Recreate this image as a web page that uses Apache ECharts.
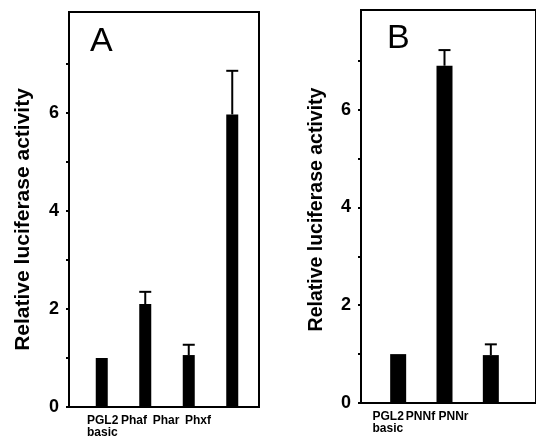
<!doctype html>
<html lang="en">
<head>
<meta charset="UTF-8">
<title>Relative luciferase activity</title>
<script src="https://cdn.jsdelivr.net/npm/echarts@6/dist/echarts.min.js"></script>
<style>
  html, body { margin: 0; padding: 0; background: #fff; }
  #main { width: 536px; height: 445px; }
</style>
</head>
<body>
<div id="main"></div>
<script>
// panel A
var catsA = ['PGL2\nbasic', 'Phaf', 'Phar', 'Phxf'];
var meanA = [1.0, 2.1, 1.06, 5.97];
var errTopA = [null, 2.35, 1.27, 6.86];
// panel B
var catsB = ['PGL2\nbasic', 'PNNf', 'PNNr'];
var meanB = [1.0, 6.9, 0.98];
var errTopB = [null, 7.22, 1.2];
// y ticks
var tickVals = [0, 1, 2, 3, 4, 5, 6, 7];
var labelVals = [0, 2, 4, 6];

var font = 'Liberation Sans, Arial, Helvetica, sans-serif';

function errPoints(means, tops) {
    var out = [];
    for (var i = 0; i < means.length; i++) {
        out.push([i, means[i], tops[i] == null ? NaN : tops[i]]);
    }
    return out;
}

function errItem(params, api) {
    var e = api.value(2);
    if (isNaN(e)) return;
    var top = api.coord([api.value(0), e]);
    var base = api.coord([api.value(0), api.value(1)]);
    var st = { stroke: '#000', lineWidth: 2 };
    return {
        type: 'group',
        children: [
            { type: 'line', shape: { x1: top[0], y1: top[1], x2: base[0], y2: base[1] }, style: st },
            { type: 'line', shape: { x1: top[0] - 6, y1: top[1], x2: top[0] + 6, y2: top[1] }, style: st }
        ]
    };
}

function catLabel(v) {
    var parts = v.split('\n');
    if (parts.length > 1) {
        return parts.map(function (p) { return '{l|' + p + '}'; }).join('\n');
    }
    return v;
}

function boxY(idx, max, nameSize, gap, shift) {
    return {
        gridIndex: idx, type: 'value', min: 0, max: max,
        axisLine: { show: true, lineStyle: { color: '#000', width: 2 } },
        axisTick: { show: true, length: 3, customValues: tickVals, lineStyle: { color: '#000', width: 2 } },
        axisLabel: { customValues: labelVals, color: '#000', fontSize: 18, fontWeight: 'bold', fontFamily: font, margin: 10 },
        splitLine: { show: false },
        name: 'Relative luciferase activity',
        nameLocation: 'middle', nameRotate: 90, nameGap: gap,
        nameTextStyle: { color: '#000', fontSize: nameSize, fontWeight: 'bold', fontFamily: font, padding: [0, shift, 0, 0] }
    };
}

function hiddenY(idx, max) {
    return { gridIndex: idx, type: 'value', min: 0, max: max, show: false };
}

function labelX(idx, cats) {
    return {
        gridIndex: idx, type: 'category', data: cats,
        axisLine: { show: false }, axisTick: { show: false },
        axisLabel: {
            interval: 0, hideOverlap: false,
            color: '#000', fontSize: 12, fontWeight: 'bold', fontFamily: font,
            margin: 8, lineHeight: 12, formatter: catLabel,
            rich: { l: { width: 30, align: 'left', fontSize: 12, fontWeight: 'bold', fontFamily: font, color: '#000', lineHeight: 12 } }
        }
    };
}

var maxA = 8.06, maxB = 8.04;

var myChart = echarts.init(document.getElementById('main'));

var option = {
    animation: false,
    backgroundColor: '#fff',
    title: [
        { text: 'A', left: 85, top: 20, textStyle: { fontSize: 34, fontWeight: 'normal', fontFamily: font, color: '#000' } },
        { text: 'B', left: 382, top: 17, textStyle: { fontSize: 34, fontWeight: 'normal', fontFamily: font, color: '#000' } }
    ],
    grid: [
        // A: box, bars, labels
        { left: 69, top: 12, width: 190, height: 395, show: true, borderColor: '#000', borderWidth: 2, backgroundColor: 'transparent' },
        { left: 80, top: 12, width: 174, height: 395 },
        { left: 86, top: 12, width: 128, height: 395 },
        // B: box, bars, labels
        { left: 361, top: 10, width: 240, height: 393, show: true, borderColor: '#000', borderWidth: 2, backgroundColor: 'transparent' },
        { left: 375, top: 10, width: 139, height: 393 },
        { left: 371, top: 10, width: 99, height: 393 }
    ],
    xAxis: [
        { gridIndex: 0, type: 'value', min: 0, max: 1, show: false },
        { gridIndex: 1, type: 'category', data: catsA, show: false },
        labelX(2, catsA),
        { gridIndex: 3, type: 'value', min: 0, max: 1, show: false },
        { gridIndex: 4, type: 'category', data: catsB, show: false },
        labelX(5, catsB)
    ],
    yAxis: [
        boxY(0, maxA, 21, 35, 20),
        hiddenY(1, maxA),
        hiddenY(2, maxA),
        boxY(3, maxB, 19.5, 34, 6),
        hiddenY(4, maxB),
        hiddenY(5, maxB)
    ],
    series: [
        { type: 'bar', xAxisIndex: 1, yAxisIndex: 1, data: meanA, barWidth: 12, itemStyle: { color: '#000' } },
        { type: 'custom', xAxisIndex: 1, yAxisIndex: 1, data: errPoints(meanA, errTopA), renderItem: errItem, z: 3 },
        { type: 'bar', xAxisIndex: 4, yAxisIndex: 4, data: meanB, barWidth: 16, itemStyle: { color: '#000' } },
        { type: 'custom', xAxisIndex: 4, yAxisIndex: 4, data: errPoints(meanB, errTopB), renderItem: errItem, z: 3 }
    ]
};

myChart.setOption(option);
</script>
</body>
</html>
